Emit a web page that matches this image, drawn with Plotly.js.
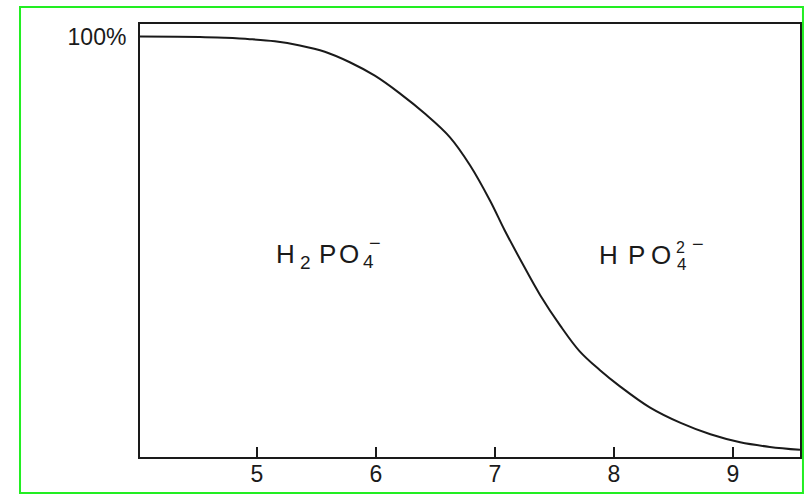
<!DOCTYPE html>
<html>
<head>
<meta charset="utf-8">
<script src="https://cdn.plot.ly/plotly-3.0.1.min.js"></script>
<style>
  html, body { margin: 0; padding: 0; background: #ffffff; }
  #chart { width: 806px; height: 496px; }
</style>
</head>
<body>
<div id="chart"></div>
<script>
// pH values
const pH = [4.017, 4.52, 4.73, 4.94, 5.15, 5.36, 5.57, 5.78, 5.99, 6.20, 6.41, 6.62, 6.79, 6.96, 7.08, 7.21, 7.38, 7.55, 7.71, 7.88, 8.05, 8.30, 8.56, 8.81, 9.06, 9.31, 9.563];
// percentage of H2PO4-
const percent = [100, 99.9, 99.7, 99.4, 98.9, 97.9, 96.4, 93.9, 90.7, 86.5, 81.7, 76.1, 69.4, 60.9, 54.0, 47.1, 38.5, 31.2, 25.2, 20.7, 16.8, 11.8, 8.1, 5.4, 3.5, 2.4, 1.7];
// axis ticks
const xTicks = [5, 6, 7, 8, 9];
const yTicks = [100];
const yTickText = ['100%'];
// species labels, split into glyph groups
const labelParts = ['H', '2', 'P', 'O', '4', '−', 'H', 'P', 'O', '4', '2', '−'];

const fontFamily = '"Liberation Sans", Arial, Helvetica, sans-serif';
const ink = '#1a1a1a';

const trace = {
  x: pH,
  y: percent,
  type: 'scatter',
  mode: 'lines',
  line: { color: ink, width: 2, shape: 'spline', smoothing: 1 },
  hoverinfo: 'skip'
};

// pixel helpers -> paper coords (plot area 140..800 x, 24..457 y)
const px = (x) => (x - 140) / 660;
const py = (y) => (457 - y) / 433;

// [centerX, centerY, fontSize] for each label part
const partPlaces = [
  [285, 254, 26], [305, 262, 19], [327.5, 254, 26], [348.5, 254, 26], [368.5, 261, 19], [375, 243, 20],
  [608.5, 254.5, 26], [636.5, 254.5, 26], [661, 254.5, 26], [681.5, 264, 17], [680.5, 247.5, 16], [697.5, 244, 20]
];

const annotations = labelParts.map((t, i) => ({
  xref: 'paper', yref: 'paper',
  x: px(partPlaces[i][0]), y: py(partPlaces[i][1]),
  xanchor: 'center', yanchor: 'middle',
  text: t,
  showarrow: false,
  font: { size: partPlaces[i][2], color: ink, family: fontFamily }
}));

const layout = {
  width: 806,
  height: 496,
  margin: { l: 140, r: 6, t: 24, b: 39 },
  paper_bgcolor: '#ffffff',
  plot_bgcolor: '#ffffff',
  showlegend: false,
  font: { family: fontFamily, color: ink },
  xaxis: {
    range: [4.017, 9.563],
    tickvals: xTicks,
    ticks: 'inside',
    ticklen: 10,
    tickwidth: 1.5,
    tickcolor: ink,
    showline: true,
    linecolor: ink,
    linewidth: 2,
    mirror: true,
    showgrid: false,
    zeroline: false,
    tickfont: { size: 23, color: ink, family: fontFamily },
    ticklabelstandoff: -5
  },
  yaxis: {
    range: [0, 103],
    tickvals: yTicks,
    ticktext: yTickText,
    ticks: '',
    showline: true,
    linecolor: ink,
    linewidth: 2,
    mirror: true,
    showgrid: false,
    zeroline: false,
    tickfont: { size: 23, color: ink, family: fontFamily },
    ticklabelstandoff: 7
  },
  shapes: [
    {
      type: 'rect', xref: 'paper', yref: 'paper',
      x0: -0.1818, x1: 1.0045, y0: -0.0831, y1: 1.0393,
      line: { color: '#22ee22', width: 2 },
      fillcolor: 'rgba(0,0,0,0)'
    }
  ],
  annotations: annotations
};

Plotly.newPlot('chart', [trace], layout, { displayModeBar: false, staticPlot: true });
</script>
</body>
</html>
